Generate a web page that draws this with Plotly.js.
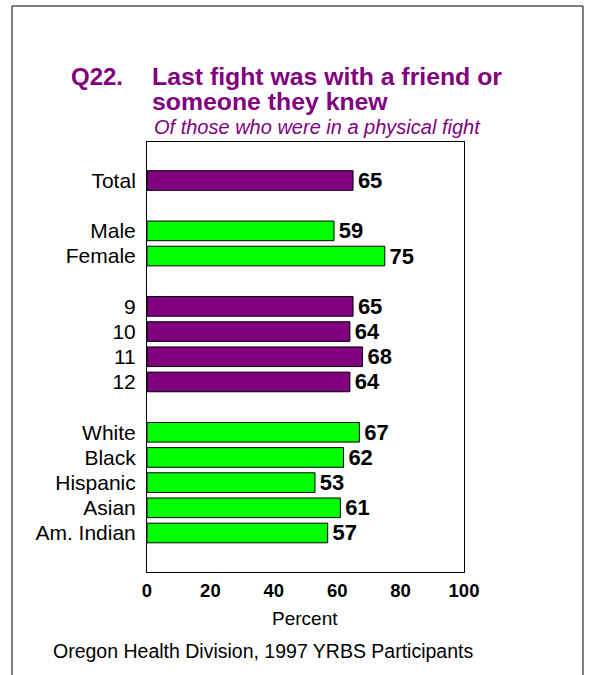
<!DOCTYPE html>
<html>
<head>
<meta charset="utf-8">
<script src="https://cdn.plot.ly/plotly-3.0.1.min.js"></script>
<style>
  body { margin: 0; background: #fff; }
  #chart { width: 593px; height: 675px; }
</style>
</head>
<body>
<div id="chart"></div>
<script>
// rows of the chart, blank names are spacer rows between groups
let categories = ['Total', ' ', 'Male', 'Female', '  ', '9', '10', '11', '12', '   ',
                  'White', 'Black', 'Hispanic', 'Asian', 'Am. Indian'];
let percents = [65, null, 59, 75, null, 65, 64, 68, 64, null, 67, 62, 53, 61, 57];
let groups = ['all', '', 'sex', 'sex', '', 'grade', 'grade', 'grade', 'grade', '',
              'race', 'race', 'race', 'race', 'race'];
let x_ticks = [0, 20, 40, 60, 80, 100];

let purple = '#800080';
let green = '#00ff00';
let group_colors = {all: purple, grade: purple, sex: green, race: green, '': green};

let font_fam = '"Liberation Sans", Arial, sans-serif';

// pixel -> paper helpers (plot area is 147..464 x 142..572)
let px = X => (X - 147) / 317;
let py = Y => (572 - Y) / 430;

let trace = {
    type: 'bar',
    orientation: 'h',
    y: categories,
    x: percents,
    marker: {
        color: groups.map(g => group_colors[g]),
        line: {color: '#000', width: 1}
    },
    // hair space gives a bit more room between bar end and label
    text: percents.map(v => v === null ? '' : '\u200a' + v),
    textposition: 'outside',
    textfont: {family: font_fam, size: 22, color: '#000', weight: 'bold'},
    constraintext: 'none',
    cliponaxis: false,
    hoverinfo: 'none'
};

let layout = {
    width: 593,
    height: 675,
    margin: {l: 147, r: 129, t: 142, b: 103},
    paper_bgcolor: '#fff',
    plot_bgcolor: '#fff',
    showlegend: false,
    bargap: 0.22,
    font: {family: font_fam, color: '#000'},
    xaxis: {
        range: [0, 100],
        tickvals: x_ticks,
        showgrid: false,
        zeroline: false,
        showline: true,
        mirror: true,
        linecolor: '#000',
        linewidth: 1,
        ticks: '',
        ticklabelstandoff: 2,
        tickfont: {family: font_fam, size: 18.5, color: '#000', weight: 'bold'},
        fixedrange: true
    },
    yaxis: {
        type: 'category',
        categoryorder: 'array',
        categoryarray: categories,
        range: [15.55, -1.53],
        showgrid: false,
        zeroline: false,
        showline: true,
        mirror: true,
        linecolor: '#000',
        linewidth: 1,
        ticks: '',
        ticklabelstandoff: 6,
        tickfont: {family: font_fam, size: 21, color: '#000'},
        fixedrange: true
    },
    shapes: [{
        type: 'rect', xref: 'paper', yref: 'paper',
        x0: px(12), x1: px(583), y0: py(690), y1: py(6),
        line: {color: '#000', width: 1}
    }],
    annotations: [
        {text: 'Q22.', xref: 'paper', yref: 'paper', x: px(69), y: py(77),
         xanchor: 'left', yanchor: 'middle', showarrow: false,
         font: {family: font_fam, size: 24, color: purple, weight: 'bold'}},
        {text: 'Last fight was with a friend or', xref: 'paper', yref: 'paper', x: px(150), y: py(77),
         xanchor: 'left', yanchor: 'middle', showarrow: false,
         font: {family: font_fam, size: 24.8, color: purple, weight: 'bold'}},
        {text: 'someone they knew', xref: 'paper', yref: 'paper', x: px(150), y: py(101),
         xanchor: 'left', yanchor: 'middle', showarrow: false,
         font: {family: font_fam, size: 24.8, color: purple, weight: 'bold'}},
        {text: 'Of those who were in a physical fight', xref: 'paper', yref: 'paper', x: px(152), y: py(127),
         xanchor: 'left', yanchor: 'middle', showarrow: false,
         font: {family: font_fam, size: 20, color: purple, style: 'italic'}},
        {text: 'Percent', xref: 'paper', yref: 'paper', x: px(305), y: py(618),
         xanchor: 'center', yanchor: 'middle', showarrow: false,
         font: {family: font_fam, size: 19, color: '#000'}},
        {text: 'Oregon Health Division, 1997 YRBS Participants', xref: 'paper', yref: 'paper', x: px(51), y: py(651),
         xanchor: 'left', yanchor: 'middle', showarrow: false,
         font: {family: font_fam, size: 19.5, color: '#000'}}
    ]
};

let config = {displayModeBar: false, staticPlot: true};

Plotly.newPlot('chart', [trace], layout, config);
</script>
</body>
</html>
